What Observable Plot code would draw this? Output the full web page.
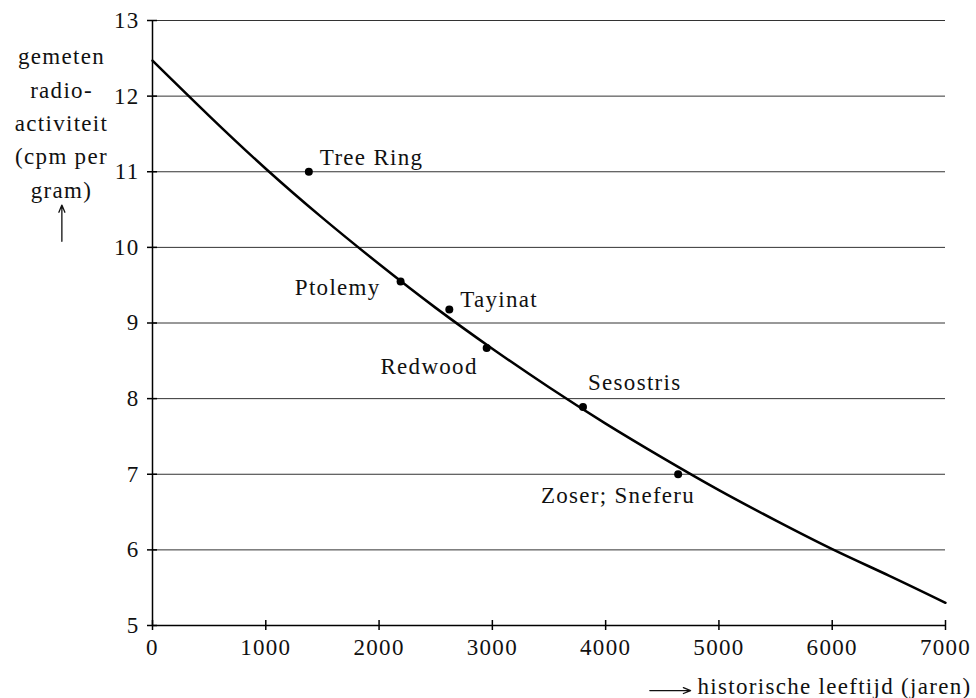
<!DOCTYPE html>
<html>
<head>
<meta charset="utf-8">
<script src="https://cdn.jsdelivr.net/npm/d3@7"></script>
<script src="https://cdn.jsdelivr.net/npm/@observablehq/plot@0.6"></script>
<style>
  html, body { margin: 0; padding: 0; background: #fff; }
  #chart svg, #chart svg text { font-family: "Liberation Serif", "DejaVu Serif", serif !important; }
  #chart svg text { letter-spacing: 1.3px; }
</style>
</head>
<body>
<div id="chart"></div>
<script>
// Measured samples: name, historical age (years), radioactivity (cpm per gram)
const sampleNames = ["Tree Ring", "Ptolemy", "Tayinat", "Redwood", "Sesostris", "Zoser; Sneferu"];
const sampleAges = [1380, 2190, 2620, 2950, 3800, 4640];
const sampleActivity = [11.0, 9.55, 9.18, 8.67, 7.89, 7.0];

// Decay curve
const curveAges = [0, 500, 1000, 1500, 2000, 2500, 3000, 3500, 4000, 4500, 5000, 5500, 6000, 6500, 7000];
const curveActivity = [12.47, 11.74, 11.04, 10.39, 9.78, 9.20, 8.66, 8.15, 7.67, 7.22, 6.79, 6.39, 6.01, 5.66, 5.30];

const xTicks = [0, 1000, 2000, 3000, 4000, 5000, 6000, 7000];
const yTicks = [5, 6, 7, 8, 9, 10, 11, 12, 13];

const yLabel = "gemeten\nradio-\nactiviteit\n(cpm per\ngram)";
const xLabel = "historische leeftijd (jaren)";

// label placement (pixel offsets from each dot)
const labelPlacement = {
  "Tree Ring": {anchor: "start", dx: 11, dy: -14},
  "Ptolemy": {anchor: "end", dx: -20, dy: 6},
  "Tayinat": {anchor: "start", dx: 11, dy: -10},
  "Redwood": {anchor: "end", dx: -9, dy: 19},
  "Sesostris": {anchor: "start", dx: 5, dy: -24},
  "Zoser; Sneferu": {anchor: "end", dx: 17, dy: 21}
};

// annotation arrows next to the axis titles (placed in the chart's own units, outside the frame)
const yArrow = [{x1: -800, y1: 10.08, x2: -800, y2: 10.56}];
const xArrow = [{x1: 4390, y1: 4.14, x2: 4750, y2: 4.14}];

const serif = "Liberation Serif";
const fs = 23;
const samples = sampleNames.map((name, i) => ({name, age: sampleAges[i], activity: sampleActivity[i]}));
const curve = curveAges.map((a, i) => ({age: a, activity: curveActivity[i]}));

const labelMarks = samples.map(d => {
  const p = labelPlacement[d.name];
  return Plot.text([d], {x: "age", y: "activity", text: "name", textAnchor: p.anchor, dx: p.dx, dy: p.dy, fontSize: fs, fontFamily: serif, fill: "#111"});
});

const chart = Plot.plot({
  width: 976,
  height: 698,
  marginLeft: 152,
  marginRight: 31,
  marginTop: 20,
  marginBottom: 73,
  style: {fontFamily: serif, fontSize: fs + "px", color: "#111", background: "#fff", overflow: "visible"},
  x: {domain: [0, 7000], ticks: xTicks, tickFormat: d3.format("d")},
  y: {domain: [5, 13], ticks: yTicks, tickFormat: d3.format("d")},
  marks: [
    Plot.ruleY(yTicks, {x1: 0, x2: 7000, stroke: "#333", strokeWidth: 1}),
    Plot.ruleX([0], {stroke: "#000", strokeWidth: 1.5}),
    Plot.ruleY([5], {stroke: "#000", strokeWidth: 1.5}),
    Plot.axisX({ticks: xTicks, tickSize: 10, text: null, dy: -5, label: null, stroke: "#000", strokeWidth: 1.5}),
    Plot.axisX({ticks: xTicks, tickSize: 0, tickPadding: 13, label: null, fontSize: fs, fontFamily: serif, fill: "#111", tickFormat: d3.format("d")}),
    Plot.axisY({ticks: yTicks, tickSize: 10, text: null, dx: 5, label: null, stroke: "#000", strokeWidth: 1.5}),
    Plot.axisY({ticks: yTicks, tickSize: 0, tickPadding: 13, label: null, fontSize: fs, fontFamily: serif, fill: "#111", tickFormat: d3.format("d")}),
    Plot.line(curve, {x: "age", y: "activity", curve: "natural", stroke: "#000", strokeWidth: 2.5}),
    Plot.dot(samples, {x: "age", y: "activity", r: 4, fill: "#000"}),
    ...labelMarks,
    Plot.text([yLabel], {frameAnchor: "top-left", dx: -91, dy: 20, textAnchor: "middle", lineAnchor: "top", lineHeight: 1.45, fontSize: fs, fontFamily: serif, fill: "#111"}),
    Plot.arrow(yArrow, {x1: "x1", y1: "y1", x2: "x2", y2: "y2", stroke: "#111", strokeWidth: 1.3, headLength: 9, headAngle: 45, clip: false}),
    Plot.text([xLabel], {frameAnchor: "bottom-right", dx: 26, dy: 68, textAnchor: "end", lineAnchor: "bottom", fontSize: fs, fontFamily: serif, fill: "#111"}),
    Plot.arrow(xArrow, {x1: "x1", y1: "y1", x2: "x2", y2: "y2", stroke: "#111", strokeWidth: 1.3, headLength: 9, headAngle: 45, clip: false})
  ]
});

document.getElementById("chart").appendChild(chart);
</script>
</body>
</html>
